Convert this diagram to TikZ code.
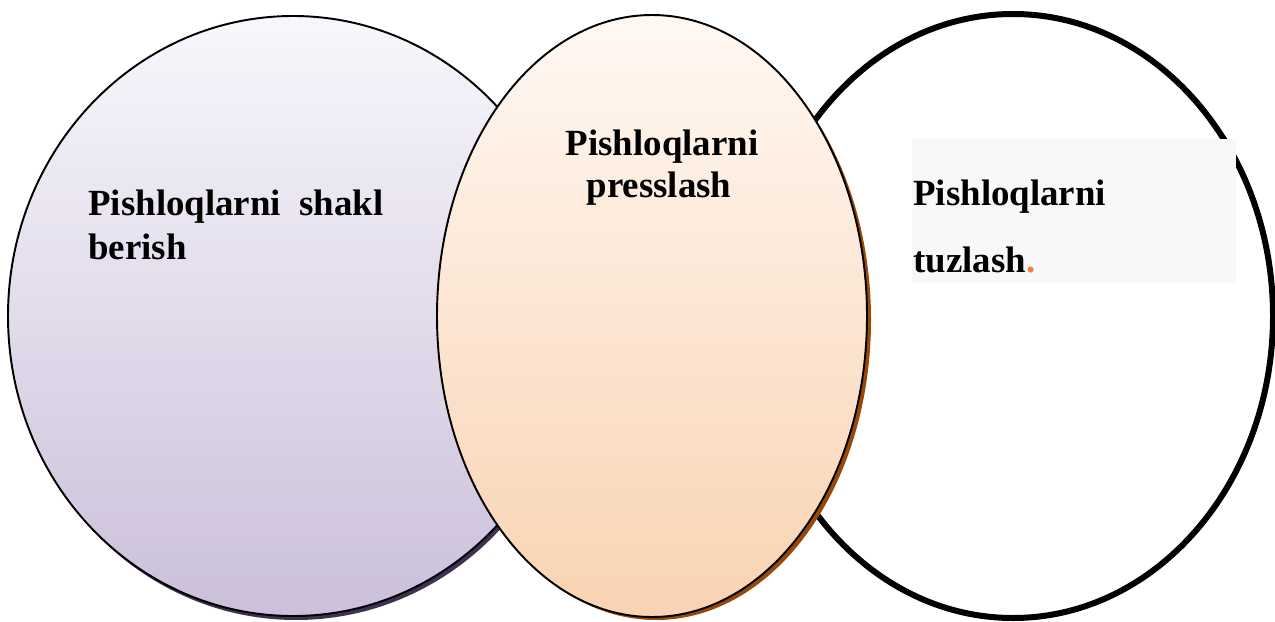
\documentclass[tikz,border=0pt]{standalone}
\usepackage{fontspec}
\setmainfont{Liberation Serif}
\usepackage{tikz}
\usetikzlibrary{positioning, calc}
\definecolor{LavTop}{HTML}{F8F7FC}
\definecolor{LavBottom}{HTML}{CBBFDA}
\definecolor{LavShadow}{HTML}{3F3151}
\definecolor{PeachTop}{HTML}{FFF8F3}
\definecolor{PeachBottom}{HTML}{F9D3B2}
\definecolor{PeachShadow}{HTML}{984807}
\definecolor{BoxGray}{HTML}{F7F8FA}
\definecolor{DotOrange}{HTML}{F0803C}

\begin{document}
\begin{tikzpicture}[x=0.02cm, y=-0.02cm,
    label/.style={font=\fontsize{21}{25.6}\selectfont\bfseries, inner sep=0pt, anchor=base west}]
    \useasboundingbox (0,0) rectangle (1275,622);

    % right circle
    \draw[line width=0.12cm, fill=white] (1013,316) ellipse (260 and 302);
    \fill[BoxGray] (912,139) rectangle (1236,283);

    % left circle
    \fill[LavShadow] (296,320) ellipse (285 and 300);
    \shadedraw[top color=LavTop, bottom color=LavBottom, draw=black, line width=1.1pt] (293,316) ellipse (285 and 300);

    % middle circle
    \fill[PeachShadow] (656,320) ellipse (215 and 300);
    \shadedraw[top color=PeachTop, bottom color=PeachBottom, draw=black, line width=1.1pt] (652,316) ellipse (215 and 301);

    \node[label, text width=5.9cm, align=justify] (shakl) at (88,215) {Pishloqlarni shakl berish};
    \node[label, anchor=base] (press) at (662,155) {Pishloqlarni};
    \node[label, anchor=base] (press2) at (659,197) {presslash};
    \node[label] (tuz) at (913,205) {Pishloqlarni};
    \node[label] (tuz2) at (913,272) {tuzlash\textcolor{DotOrange}{.}};
  \end{tikzpicture}
\end{document}
